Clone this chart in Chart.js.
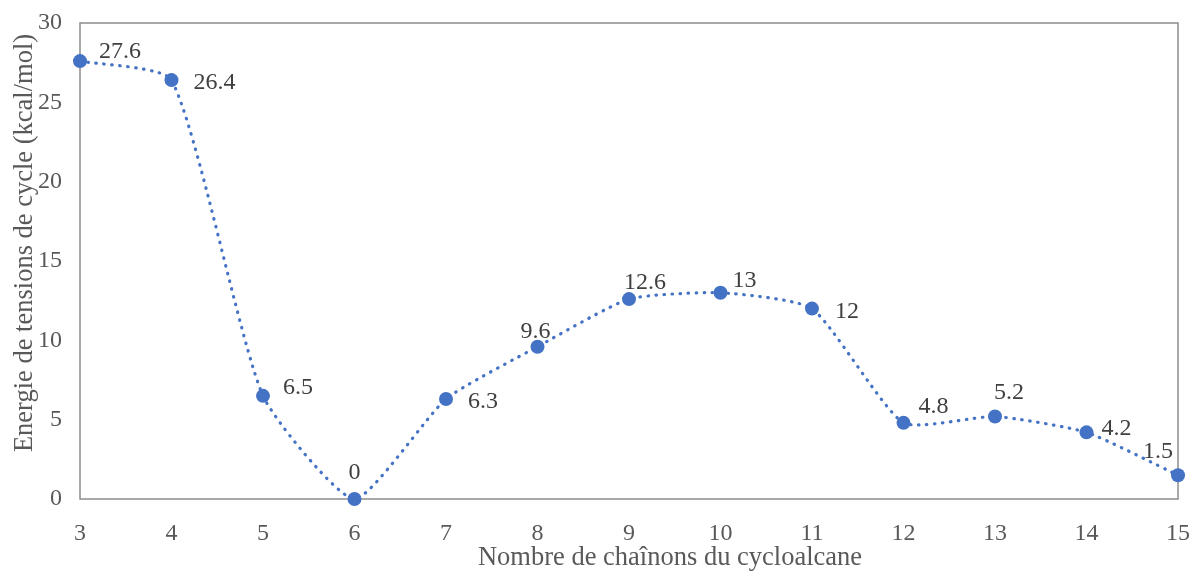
<!DOCTYPE html>
<html>
<head>
<meta charset="utf-8">
<script src="https://cdn.jsdelivr.net/npm/chart.js@4"></script>
<style>
  html, body { margin: 0; padding: 0; background: #fff; }
  #wrap { width: 1192px; height: 574px; }
</style>
</head>
<body>
<div id="wrap"><canvas id="chart"></canvas></div>
<script>
// data
const ringSizes = ['3', '4', '5', '6', '7', '8', '9', '10', '11', '12', '13', '14', '15'];
const strainEnergy = [27.6, 26.4, 6.5, 0, 6.3, 9.6, 12.6, 13, 12, 4.8, 5.2, 4.2, 1.5];
const yTicks = [0, 5, 10, 15, 20, 25, 30];
const xTitle = 'Nombre de chaînons du cycloalcane';
const yTitle = 'Energie de tensions de cycle (kcal/mol)';

// where each value label sits relative to its point (px)
const labelShift = [
    [40, -9], [43, 3], [35, -8], [0, -26], [37, 3], [-2, -15], [16, -16],
    [24, -12], [35, 3], [30, -16], [14, -24], [30, -4], [-20, -23]
];

const TEXT = '#595959';
const FONT = '"Liberation Serif", "Times New Roman", serif';

const frameAndLabels = {
    id: 'frameAndLabels',
    beforeDatasetsDraw(chart) {
        const { ctx, chartArea: a } = chart;
        ctx.save();
        ctx.strokeStyle = '#8c8c8c';
        ctx.lineWidth = 1.5;
        ctx.strokeRect(a.left, a.top, a.right - a.left, a.bottom - a.top);

        // axis titles (Excel places them a bit off the plot centre)
        ctx.fillStyle = TEXT;
        ctx.font = '26.5px ' + FONT;
        ctx.textAlign = 'center';
        ctx.textBaseline = 'middle';
        ctx.fillText(xTitle, (a.left + a.right) / 2 + 41, 558);
        ctx.translate(25, (a.top + a.bottom) / 2 - 18);
        ctx.rotate(-Math.PI / 2);
        ctx.fillText(yTitle, 0, 0);
        ctx.restore();
    },
    afterDatasetsDraw(chart) {
        const { ctx } = chart;
        const meta = chart.getDatasetMeta(0);
        ctx.save();
        ctx.font = '24px ' + FONT;
        ctx.fillStyle = '#404040';
        ctx.textAlign = 'center';
        ctx.textBaseline = 'middle';
        meta.data.forEach((pt, i) => {
            const [dx, dy] = labelShift[i];
            ctx.fillText(String(strainEnergy[i]), pt.x + dx, pt.y + dy);
        });
        ctx.restore();
    }
};

new Chart(document.getElementById('chart'), {
    type: 'line',
    data: {
        labels: ringSizes,
        datasets: [{
            data: strainEnergy,
            borderColor: '#4472c4',
            backgroundColor: '#4472c4',
            borderWidth: 3.2,
            borderDash: [0.5, 7.5],
            borderCapStyle: 'round',
            tension: 0.18,
            pointRadius: 7,
            pointHoverRadius: 7,
            pointBorderWidth: 0,
            fill: false,
            clip: false
        }]
    },
    options: {
        responsive: true,
        maintainAspectRatio: false,
        animation: false,
        layout: { padding: { top: 23, right: 14, left: 0, bottom: 0 } },
        plugins: { legend: { display: false }, tooltip: { enabled: false } },
        scales: {
            x: {
                offset: false,
                grid: { display: false, drawTicks: false },
                border: { display: false },
                ticks: { color: TEXT, font: { family: FONT, size: 24 }, padding: 20, maxRotation: 0 },
                afterFit(s) { s.height = 75; s.paddingLeft = 0; s.paddingRight = 0; }
            },
            y: {
                min: 0, max: 30,
                afterBuildTicks(s) { s.ticks = yTicks.map(v => ({ value: v })); },
                grid: { display: false, drawTicks: false },
                border: { display: false },
                ticks: { color: TEXT, font: { family: FONT, size: 24 }, padding: 18 },
                afterFit(s) { s.width = 80; s.paddingTop = 0; s.paddingBottom = 0; }
            }
        }
    },
    plugins: [frameAndLabels]
});
</script>
</body>
</html>
